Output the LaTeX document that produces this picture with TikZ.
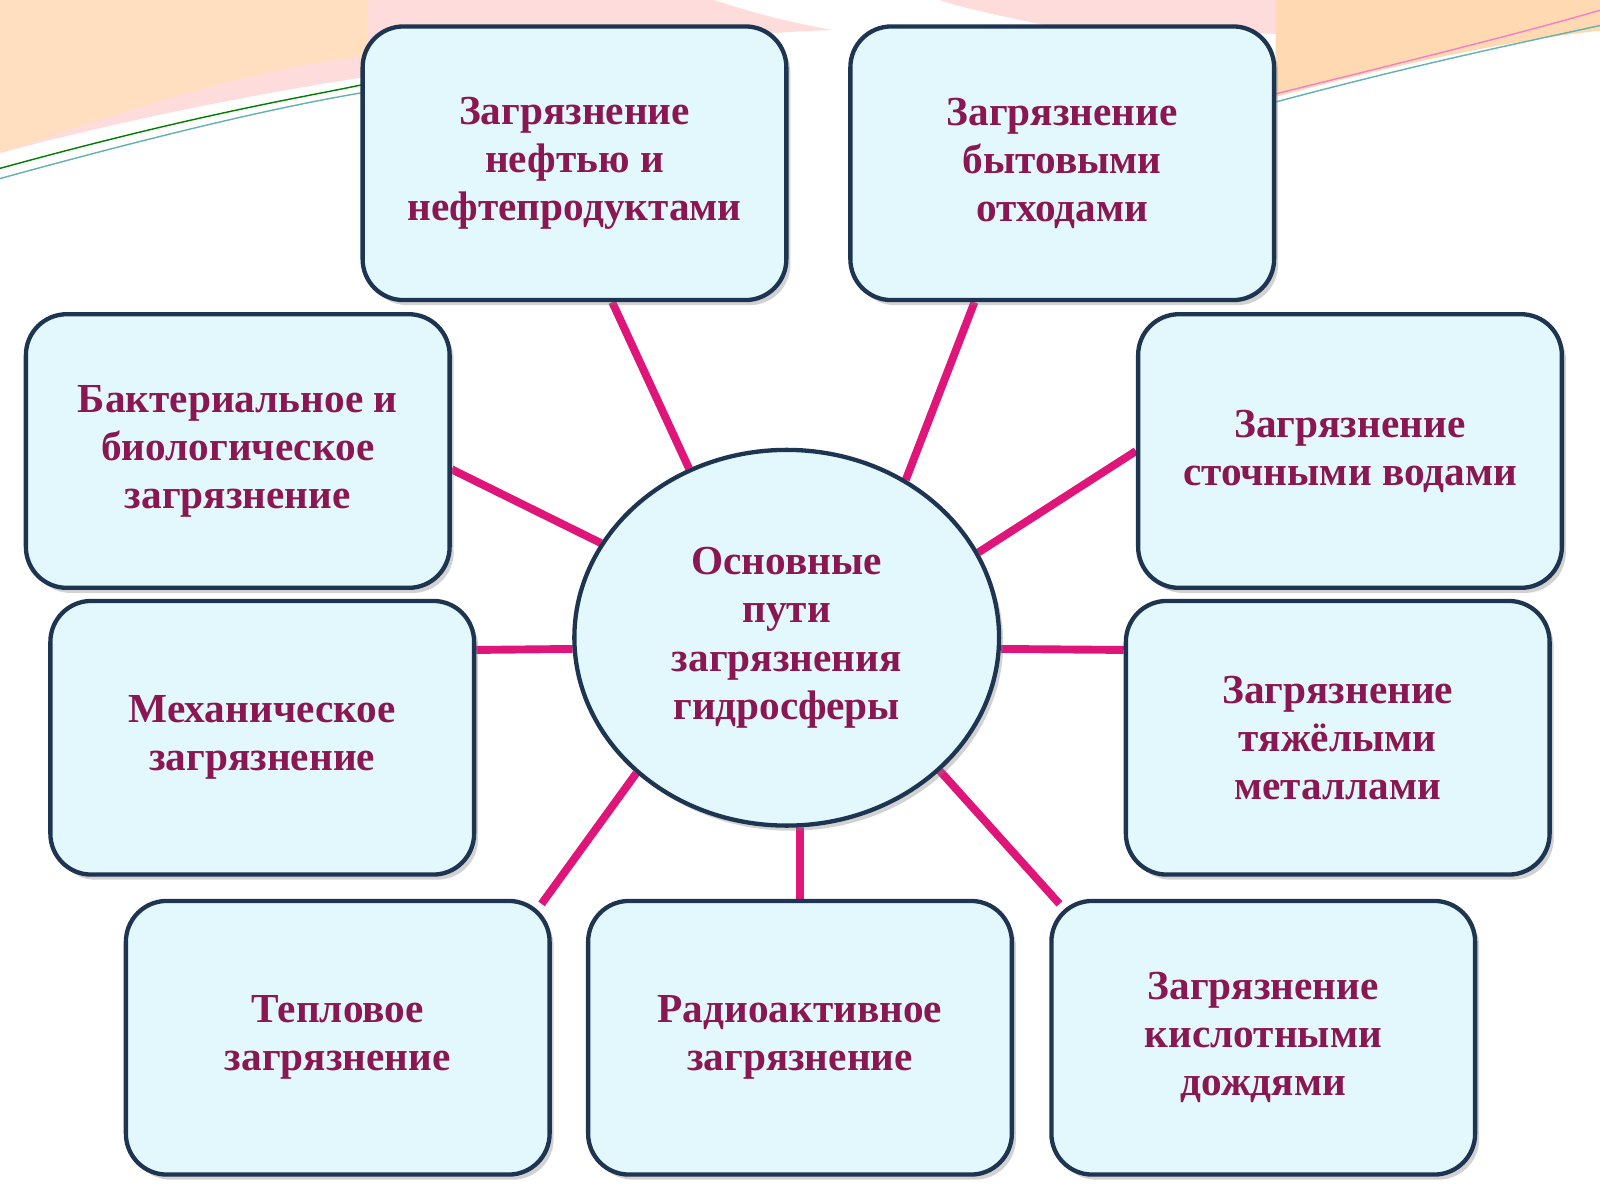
\documentclass[tikz,border=0pt]{standalone}
\usepackage{fontspec}
\setmainfont{Liberation Serif}
\usetikzlibrary{shapes.geometric,shadows,backgrounds}
\definecolor{txtc}{HTML}{8A1752}
\definecolor{boxfill}{HTML}{E2F8FD}
\definecolor{boxline}{HTML}{1E3552}
\definecolor{linkc}{HTML}{E0157A}

\begin{document}
\begin{tikzpicture}
[x=0.01cm,y=-0.01cm,
topic/.style={rectangle,rounded corners=0.4cm,draw=boxline,line width=1.2pt,fill=boxfill,
  minimum width=4.15cm,minimum height=2.68cm,align=center,text=txtc,
  font=\fontsize{11.5}{13.4}\selectfont\bfseries,
  drop shadow={shadow xshift=0.04cm,shadow yshift=-0.05cm,opacity=0.35}},
hub/.style={ellipse,draw=boxline,line width=1.2pt,fill=boxfill,
  minimum width=4.16cm,minimum height=3.68cm,align=center,text=txtc,
  font=\fontsize{11.5}{13.4}\selectfont\bfseries,
  drop shadow={shadow xshift=0.04cm,shadow yshift=-0.05cm,opacity=0.35}},
link/.style={draw=linkc,line width=2.2pt}]

\useasboundingbox (0,0) rectangle (1568,1176);

\node[hub] (core) at (771,625) {Основные\\пути\\загрязнения\\гидросферы};

\node[topic] (oil)   at (563,160)  {Загрязнение\\нефтью и\\нефтепродуктами};
\node[topic] (waste) at (1041,160) {Загрязнение\\бытовыми\\отходами};
\node[topic] (bio)   at (233,442)  {Бактериальное и\\биологическое\\загрязнение};
\node[topic] (sewer) at (1323,442) {Загрязнение\\сточными водами};
\node[topic] (mech)  at (257,723)  {Механическое\\загрязнение};
\node[topic] (metal) at (1311,723) {Загрязнение\\тяжёлыми\\металлами};
\node[topic] (heat)  at (331,1017) {Тепловое\\загрязнение};
\node[topic] (radio) at (784,1017) {Радиоактивное\\загрязнение};
\node[topic] (acid)  at (1238,1017) {Загрязнение\\кислотными\\дождями};

\begin{scope}[on background layer]
% top decoration
\fill[white] (0,0) rectangle (1568,1176);
\fill[pink!55] (0,0) -- (0,150) .. controls (300,70) and (600,40) .. (800,30)
  .. controls (1100,20) and (1350,50) .. (1568,20) -- (1568,0) -- cycle;
\fill[orange!25] (0,150) .. controls (200,80) and (300,60) .. (360,55)
  -- (360,0) -- (0,0) -- cycle;
\fill[orange!30] (1250,95) .. controls (1380,60) and (1480,40) .. (1568,30) -- (1568,0)
  -- (1250,0) -- cycle;
\fill[white] (700,0) .. controls (760,20) and (830,35) .. (900,40) -- (1100,40)
  .. controls (1000,20) and (950,10) .. (920,0) -- cycle;
\draw[teal!60,thin] (0,175) .. controls (200,120) and (300,100) .. (360,90);
\draw[green!50!black,thin] (0,165) .. controls (200,110) and (300,95) .. (360,82);
\draw[teal!60,thin] (1250,100) .. controls (1400,60) and (1500,40) .. (1568,25);
\draw[magenta!50,thin] (1250,92) .. controls (1400,55) and (1500,30) .. (1568,10);
% links
\draw[link] (core.120) -- ([xshift=0.37cm]oil.south);
\draw[link] (core.53)  -- ([xshift=-0.86cm]waste.south);
\draw[link] (core.153) -- ([yshift=-0.18cm]bio.east);
\draw[link] (core.24)  -- (sewer.west);
\draw[link] (core.183) -- ([yshift=0.86cm]mech.east);
\draw[link] (core.357) -- ([yshift=0.86cm]metal.west);
\draw[link] (core.222) -- ([xshift=-0.1cm,yshift=-0.05cm]heat.north east);
\draw[link] (core.274) -- (radio.north);
\draw[link] (core.319) -- ([xshift=0.1cm,yshift=-0.05cm]acid.north west);
\end{scope}
\end{tikzpicture}
\end{document}
